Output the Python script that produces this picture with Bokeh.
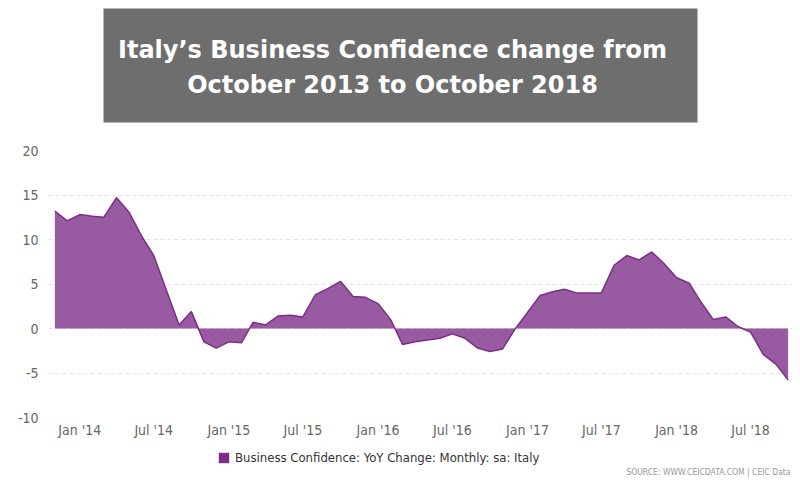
import pandas as pd
from bokeh.plotting import figure
from bokeh.models import (ColumnDataSource, FixedTicker, DatetimeTickFormatter, Range1d,
                          Legend, LegendItem, Label)
from bokeh.layouts import column
from bokeh.embed import file_html
from bokeh.resources import INLINE
from bokeh.core.properties import value

# ---------------- data ----------------
months = pd.date_range("2013-11-01", "2018-10-01", freq="MS")
confidence_yoy = [
    13.2, 12.1,                                                     # 2013 Nov-Dec
    12.8, 12.6, 12.5, 14.7, 13.1, 10.4, 8.2, 4.3, 0.4, 1.9, -1.5, -2.2,   # 2014
    -1.5, -1.6, 0.7, 0.4, 1.4, 1.5, 1.3, 3.8, 4.5, 5.3, 3.6, 3.5,      # 2015
    2.8, 1.0, -1.8, -1.5, -1.3, -1.1, -0.6, -1.1, -2.2, -2.6, -2.3, -0.1,  # 2016
    1.8, 3.7, 4.1, 4.4, 4.0, 4.0, 4.0, 7.1, 8.2, 7.7, 8.6, 7.3,        # 2017
    5.7, 5.1, 3.0, 1.0, 1.3, 0.2, -0.4, -2.9, -4.0, -5.8,              # 2018 Jan-Oct
]
y_ticks = [-10, -5, 0, 5, 10, 15, 20]
x_tick_dates = ["2014-01-01", "2014-07-01", "2015-01-01", "2015-07-01", "2016-01-01",
                "2016-07-01", "2017-01-01", "2017-07-01", "2018-01-01", "2018-07-01"]
title_lines = ["Italy\u2019s Business Confidence change from", "October 2013 to October 2018"]
series_name = "Business Confidence: YoY Change: Monthly: sa: Italy"
source_text = "SOURCE: WWW.CEICDATA.COM | CEIC Data"

COLOR = "#7b2d87"
TICK_FONT = "DejaVu Sans Condensed"
W = 792
LEFT = 48
NAN = float("nan")

def bare(fig):
    fig.grid.visible = False
    fig.outline_line_color = None
    return fig

# ---------------- title panel (coords = page pixels) ----------------
t = bare(figure(width=W, height=128, x_range=Range1d(LEFT, W), y_range=Range1d(128, 0),
                output_backend="svg", toolbar_location=None, min_border_left=LEFT,
                min_border_right=0, min_border_top=0, min_border_bottom=0,
                x_axis_location=None, y_axis_location=None))
t.quad(left=[103], right=[697], top=[8], bottom=[122], fill_color="#6e6e6e", line_color=None)
t.text(x=[392, 392], y=[49, 84], text=title_lines, text_font=value("DejaVu Sans"),
       text_font_style="bold", text_font_size="24px", text_color="white",
       text_align="center", text_baseline="middle")

# ---------------- chart ----------------
jan14 = pd.Timestamp("2014-01-01")
px_per_day = 0.4085
x_start = jan14 - pd.Timedelta(days=31.3 / px_per_day)
x_end = x_start + pd.Timedelta(days=(W - LEFT) / px_per_day)

p = figure(width=W, height=317, x_axis_type="datetime",
           x_range=Range1d(x_start, x_end), y_range=Range1d(-10, 20),
           output_backend="svg", toolbar_location=None,
           min_border_left=LEFT, min_border_right=0, min_border_top=22, min_border_bottom=28)
p.outline_line_color = None

src = ColumnDataSource(dict(date=months, value=confidence_yoy))
p.varea(x="date", y1=0, y2="value", source=src, fill_color=COLOR, fill_alpha=0.78)
p.line(x="date", y="value", source=src, line_color=COLOR, line_width=1.5)

p.xaxis.ticker = FixedTicker(ticks=[pd.Timestamp(d).value // 10**6 for d in x_tick_dates])
fmt = "%b '%y"
p.xaxis.formatter = DatetimeTickFormatter(years=fmt, months=fmt, days=fmt, hours=fmt,
                                          minutes=fmt, seconds=fmt, milliseconds=fmt,
                                          microseconds=fmt, hourmin=fmt, minsec=fmt)
p.yaxis.ticker = FixedTicker(ticks=y_ticks)
p.yaxis.major_label_overrides = {v: str(v) for v in y_ticks}
for ax in (p.xaxis, p.yaxis):
    ax.axis_line_color = None
    ax.major_tick_line_color = None
    ax.minor_tick_line_color = None
    ax.major_label_text_font = TICK_FONT
    ax.major_label_text_font_size = "14px"
    ax.major_label_text_color = "#666666"
p.xaxis.major_label_standoff = -2
p.yaxis.major_label_standoff = 4

p.xgrid.visible = False
p.ygrid.grid_line_color = "#e3e3e3"
p.ygrid.grid_line_dash = "4 3"
p.ygrid.grid_line_width = 1

# ---------------- legend + source panel (coords = page pixels) ----------------
g = bare(figure(width=W, height=47, x_range=Range1d(LEFT, W), y_range=Range1d(492, 445),
                output_backend="svg", toolbar_location=None, min_border_left=LEFT,
                min_border_right=0, min_border_top=0, min_border_bottom=0,
                x_axis_location=None, y_axis_location=None))
# legend swatch renderer: a single empty (NaN) row so the legend has a colour to draw
leg_r = g.quad(left=[NAN], right=[NAN], top=[NAN], bottom=[NAN],
               fill_color=COLOR, line_color=None)
legend = Legend(items=[LegendItem(label=series_name, renderers=[leg_r])],
                location=(169, 27), orientation="horizontal",
                glyph_width=13, glyph_height=13, label_height=13, label_standoff=5,
                padding=0, margin=0, border_line_color=None, background_fill_alpha=0,
                label_text_font=TICK_FONT, label_text_font_size="13px",
                label_text_color="#333333", label_text_baseline="middle")
g.add_layout(legend)
g.add_layout(Label(x=790, y=471, text=source_text, text_align="right",
                   text_baseline="middle", text_font=TICK_FONT,
                   text_font_size="8.5px", text_color="#999999"))

layout = column(t, p, g, spacing=0)
open("out.html", "w").write(file_html(layout, INLINE))
